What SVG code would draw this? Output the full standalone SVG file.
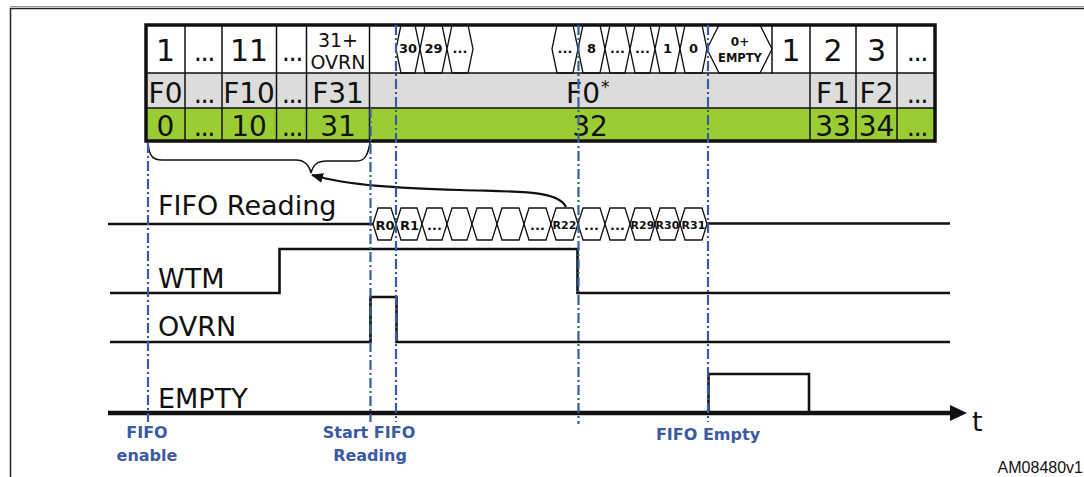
<svg xmlns="http://www.w3.org/2000/svg" width="1084" height="477" viewBox="0 0 1084 477">
<style>
.big{font-family:"DejaVu Sans",Verdana,sans-serif;font-size:28px;fill:#111;text-anchor:middle}
.r1{font-size:30px}
.dots{font-family:"DejaVu Sans",Verdana,sans-serif;font-size:26px;fill:#111;text-anchor:middle;letter-spacing:-1.5px}
.hx{font-family:"DejaVu Sans",Verdana,sans-serif;font-weight:bold;font-size:13px;fill:#111;text-anchor:middle}
.hs{font-size:11px}
.sig{font-family:"DejaVu Sans",Verdana,sans-serif;font-size:27px;fill:#111}
.blue{font-family:"DejaVu Sans",Verdana,sans-serif;font-weight:bold;font-size:16px;fill:#3b5ba5;text-anchor:middle}
.cell{fill:#fff;stroke:#111;stroke-width:1.3}
.grid{stroke:#111;stroke-width:1.5;fill:none}
.wave{stroke:#111;stroke-width:2.6;fill:none}
.dd{stroke:#3b5ba5;stroke-width:2.2;stroke-dasharray:10 3 2 3;fill:none}
</style>
<defs>
<marker id="ah" viewBox="0 0 12 10" refX="11" refY="5" markerWidth="12" markerHeight="10" markerUnits="userSpaceOnUse" orient="auto">
<path d="M0,0 L12,5 L0,10 z" fill="#111"/>
</marker>
</defs>
<rect width="1084" height="477" fill="#fff"/>
<g id="frame">
<line x1="10" y1="6.5" x2="1084" y2="6.5" stroke="#999" stroke-width="1"/>
<line x1="10" y1="8.5" x2="1084" y2="8.5" stroke="#222" stroke-width="1.5"/>
<line x1="10.5" y1="8" x2="10.5" y2="477" stroke="#222" stroke-width="1.5"/>
</g>
<g id="fifo-table">
<rect x="146" y="25" width="789" height="48" fill="#fff"/>
<rect x="146" y="73" width="789" height="35" fill="#dcdcdc"/>
<rect x="146" y="108" width="789" height="33" fill="#9acd32"/>
<g id="fifo-slots">
<polygon class="cell" points="396,49 401,25 415,25 420,49 415,73 401,73"/>
<polygon class="cell" points="420,49 425,25 442,25 447,49 442,73 425,73"/>
<polygon class="cell" points="447,49 452,25 468,25 473,49 468,73 452,73"/>
<polygon class="cell" points="552,49 557,25 573,25 578,49 573,73 557,73"/>
<polygon class="cell" points="578,49 583,25 600,25 605,49 600,73 583,73"/>
<polygon class="cell" points="605,49 610,25 625,25 630,49 625,73 610,73"/>
<polygon class="cell" points="630,49 635,25 650,25 655,49 650,73 635,73"/>
<polygon class="cell" points="655,49 660,25 675,25 680,49 675,73 660,73"/>
<polygon class="cell" points="680,49 685,25 702,25 707,49 702,73 685,73"/>
<polygon class="cell" points="707,49 719,25 760,25 772,49 760,73 719,73"/>
<text class="hx" x="408" y="53">30</text>
<text class="hx" x="433.5" y="53">29</text>
<text class="hx" x="460" y="53">...</text>
<text class="hx" x="565" y="53">...</text>
<text class="hx" x="591.5" y="53">8</text>
<text class="hx" x="617.5" y="53">...</text>
<text class="hx" x="642.5" y="53">...</text>
<text class="hx" x="667.5" y="53">1</text>
<text class="hx" x="693.5" y="53">0</text>
<text class="hx" x="740" y="45.5" style="font-size:12px">0+</text>
<text class="hx" x="740" y="62" style="font-size:11.5px">EMPTY</text>
</g>
<g class="grid">
<line x1="146" y1="73" x2="935" y2="73"/>
<line x1="146" y1="108" x2="935" y2="108"/>
<line x1="185" y1="25" x2="185" y2="141"/>
<line x1="222" y1="25" x2="222" y2="141"/>
<line x1="276.5" y1="25" x2="276.5" y2="141"/>
<line x1="306.5" y1="25" x2="306.5" y2="141"/>
<line x1="369.5" y1="25" x2="369.5" y2="141"/>
<line x1="772" y1="25" x2="772" y2="74"/>
<line x1="810" y1="25" x2="810" y2="141"/>
<line x1="856" y1="25" x2="856" y2="141"/>
<line x1="897" y1="25" x2="897" y2="141"/>
</g>
<rect x="146" y="25" width="789" height="116" fill="none" stroke="#111" stroke-width="3.5"/>
<text class="big r1" x="165.5" y="61">1</text>
<text class="dots" x="204" y="61">...</text>
<text class="big r1" x="249" y="61">11</text>
<text class="dots" x="292" y="61">...</text>
<text class="big" x="338" y="46.5" style="font-size:19px">31+</text>
<text class="big" x="338" y="69" style="font-size:19px">OVRN</text>
<text class="big r1" x="791" y="61">1</text>
<text class="big r1" x="833" y="61">2</text>
<text class="big r1" x="876.5" y="61">3</text>
<text class="dots" x="917" y="61">...</text>
<text class="big" x="165.5" y="103">F0</text>
<text class="dots" x="204" y="103">...</text>
<text class="big" x="249" y="103">F10</text>
<text class="dots" x="292" y="103">...</text>
<text class="big" x="338" y="103">F31</text>
<text class="big" x="600" y="103" style="text-anchor:end">F0</text>
<text class="big" x="601" y="93" style="text-anchor:start;font-size:17px">*</text>
<text class="big" x="833" y="103">F1</text>
<text class="big" x="876.5" y="103">F2</text>
<text class="dots" x="917" y="103">...</text>
<text class="big" x="165.5" y="136">0</text>
<text class="dots" x="204" y="136">...</text>
<text class="big" x="249" y="136">10</text>
<text class="dots" x="292" y="136">...</text>
<text class="big" x="338" y="136">31</text>
<text class="big" x="590" y="136">32</text>
<text class="big" x="833" y="136">33</text>
<text class="big" x="876.5" y="136">34</text>
<text class="dots" x="917" y="136">...</text>
</g>
<g id="signal-fifo-reading">
<text class="sig" x="158" y="215">FIFO Reading</text>
<line class="wave" x1="108" y1="224" x2="373" y2="224"/>
<line class="wave" x1="707" y1="223.5" x2="950" y2="223.5"/>
<polygon class="cell" points="373,224 378,208 391,208 396,224 391,240 378,240"/>
<polygon class="cell" points="396,224 401,208 417,208 422,224 417,240 401,240"/>
<polygon class="cell" points="422,224 427,208 442,208 447,224 442,240 427,240"/>
<polygon class="cell" points="447,224 452,208 467,208 472,224 467,240 452,240"/>
<polygon class="cell" points="472,224 477,208 492,208 497,224 492,240 477,240"/>
<polygon class="cell" points="497,224 502,208 519,208 524,224 519,240 502,240"/>
<polygon class="cell" points="524,224 529,208 546,208 551,224 546,240 529,240"/>
<polygon class="cell" points="551,224 556,208 573,208 578,224 573,240 556,240"/>
<polygon class="cell" points="578,224 583,208 600,208 605,224 600,240 583,240"/>
<polygon class="cell" points="605,224 610,208 625,208 630,224 625,240 610,240"/>
<polygon class="cell" points="630,224 635,208 650,208 655,224 650,240 635,240"/>
<polygon class="cell" points="655,224 660,208 675,208 680,224 675,240 660,240"/>
<polygon class="cell" points="680,224 685,208 702,208 707,224 702,240 685,240"/>
<text class="hx" x="385" y="229.5">R0</text>
<text class="hx" x="409.5" y="229.5">R1</text>
<text class="hx" x="434.5" y="229.5">...</text>
<text class="hx" x="537.5" y="229.5">...</text>
<text class="hx hs" x="564.5" y="229">R22</text>
<text class="hx" x="591.5" y="229.5">...</text>
<text class="hx" x="617.5" y="229.5">...</text>
<text class="hx hs" x="642.5" y="229">R29</text>
<text class="hx hs" x="667.5" y="229">R30</text>
<text class="hx hs" x="693.5" y="229">R31</text>
</g>
<g id="signal-wtm">
<text class="sig" x="158" y="288">WTM</text>
<path class="wave" d="M110,293 H279.5 V249 H577.5 V293 H950"/>
</g>
<g id="signal-ovrn">
<text class="sig" x="158" y="336">OVRN</text>
<path class="wave" d="M110,342 H370.5 V297 H396.5 V342 H950"/>
</g>
<g id="signal-empty">
<text class="sig" x="158" y="408">EMPTY</text>
<path class="wave" d="M708.5,413 V374 H809 V413"/>
<line x1="108" y1="413" x2="952" y2="413" stroke="#111" stroke-width="4.5"/>
<polygon points="950,405 967,413 950,421" fill="#111"/>
<text class="sig" x="972" y="431">t</text>
</g>
<g id="connectors">
<path d="M148,143 C149,155 152,160 162,160 L296,160 C305,160 309,165 311,173 C313,165 317,161 327,161 L357,161 C366,161 368,153 370,143" fill="none" stroke="#111" stroke-width="1.5"/>
<path d="M566,207 C558,190 520,192 460,190 C400,188 350,186 312,175" fill="none" stroke="#111" stroke-width="2.2" marker-end="url(#ah)"/>
</g>
<g id="event-markers">
<line class="dd" x1="148" y1="143" x2="148" y2="422"/>
<line class="dd" x1="370.5" y1="108" x2="370.5" y2="422"/>
<line class="dd" x1="396" y1="25" x2="396" y2="422"/>
<line class="dd" x1="578.5" y1="25" x2="578.5" y2="424"/>
<line class="dd" x1="708" y1="25" x2="708" y2="422"/>
<text class="blue" x="147" y="438">FIFO</text>
<text class="blue" x="147" y="461">enable</text>
<text class="blue" x="369" y="438">Start FIFO</text>
<text class="blue" x="370" y="461">Reading</text>
<text class="blue" x="708" y="439.5">FIFO Empty</text>
</g>
<text x="1083" y="473" font-family="Liberation Sans, Arial, sans-serif" font-size="16" fill="#111" text-anchor="end">AM08480v1</text>
</svg>
